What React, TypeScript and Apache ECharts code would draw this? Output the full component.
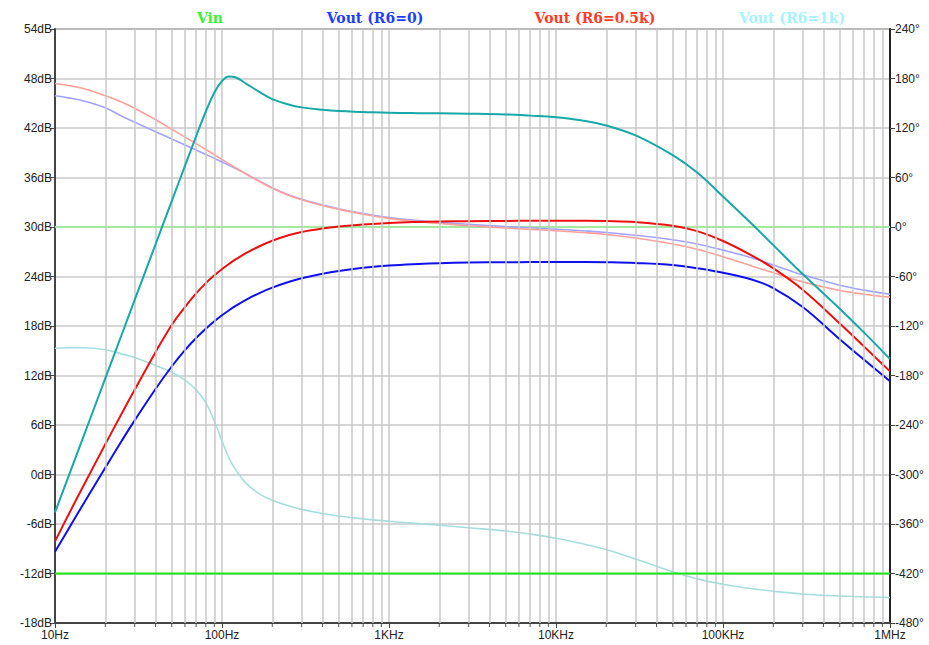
import { useEffect, useRef } from "react";
import * as echarts from "echarts";

// Frequency points (Hz) of the AC sweep
const FREQ = [
  10, 12, 15, 20, 25, 30, 40, 50, 60, 70, 80, 90, 100, 110, 120, 140, 170, 200, 250, 300, 400, 500, 700,
  1000, 1500, 2000, 3000, 5000, 7000, 10000, 15000, 20000, 30000, 50000, 70000, 100000, 150000, 200000,
  300000, 500000, 700000, 1000000,
];

// Magnitude (dB)
const VOUT_R0_DB = [
  -9.35, -6.66, -3.36, 0.83, 4.03, 6.56, 10.37, 13.09, 15.07, 16.54, 17.67, 18.57, 19.3, 19.9, 20.41,
  21.21, 22.05, 22.65, 23.33, 23.78, 24.34, 24.68, 25.06, 25.34, 25.53, 25.62, 25.69, 25.73, 25.75, 25.76,
  25.76, 25.74, 25.65, 25.4, 25.0, 24.45, 23.6, 22.6, 20.3, 16.4, 13.9, 11.3,
];
const VOUT_R05_DB = [
  -8.1, -4.93, -1.15, 3.66, 7.34, 10.27, 14.83, 18.13, 20.3, 21.95, 23.2, 24.15, 24.9, 25.52, 26.04, 26.86,
  27.73, 28.34, 29.0, 29.4, 29.82, 30.05, 30.3, 30.49, 30.61, 30.66, 30.7, 30.73, 30.75, 30.75, 30.75,
  30.72, 30.6, 30.15, 29.5, 28.3, 26.5, 25.0, 22.4, 18.3, 15.5, 12.5,
];
const VOUT_R1K_DB = [
  -4.6, -0.33, 4.9, 11.65, 16.88, 21.16, 27.9, 33.14, 37.4, 41.0, 44.0, 46.3, 47.7, 48.25, 48.15, 47.35,
  46.3, 45.5, 44.85, 44.5, 44.2, 44.05, 43.95, 43.85, 43.8, 43.78, 43.74, 43.65, 43.5, 43.3, 42.85, 42.3,
  41.1, 38.7, 36.6, 33.7, 30.3, 27.8, 24.3, 20.1, 17.2, 14.0,
];

// Phase (degrees)
const VOUT_R0_PH = [
  159, 156.5, 152.5, 144.5, 134.5, 127, 115.5, 106.7, 99.5, 93.4, 88, 83.2, 78.8, 74.8, 71.1, 64.3, 55,
  47.5, 39, 33.5, 26.5, 22, 16.3, 11.5, 7.8, 5.6, 3.2, 0.5, -1.0, -2.7, -4.8, -6.6, -10, -15.5, -20.5,
  -28, -37.5, -46, -58, -70.5, -76.5, -81.5,
];
const VOUT_R05_PH = [
  174, 171.5, 167.5, 159, 151.5, 144, 130, 118.5, 109, 101, 94, 87.5, 81.8, 76.7, 72, 64, 54.5, 47, 38.5,
  33, 26, 21.5, 15.5, 10.5, 6.5, 4.2, 1.6, -1.3, -2.9, -4.6, -6.9, -9.0, -13.3, -20.5, -27, -36, -47.5,
  -55.5, -66.5, -77, -81.5, -85,
];
const VOUT_R1K_PH = [
  -147, -146.3, -146.4, -148.8, -153.8, -158.3, -168, -176, -185.5, -197.4, -212.8, -235.5, -259, -279.8,
  -293.5, -311, -324.4, -331.1, -338, -342.3, -347.3, -350.3, -353.8, -356.7, -359.6, -361.6, -364.6,
  -368.5, -372.2, -377.2, -384.8, -391, -402.5, -418, -426.5, -433, -438.5, -441.5, -444.8, -447.3,
  -448.3, -449,
];

// Input source: flat magnitude and phase
const VIN_FREQ = [10, 1000000];
const VIN_DB = [-12, -12];
const VIN_PH = [0, 0];

// Vertical grid lines between decades
const MINOR_FREQ = [
  20, 30, 40, 50, 60, 70, 80, 90,
  200, 300, 400, 500, 600, 700, 800, 900,
  2000, 3000, 4000, 5000, 6000, 7000, 8000, 9000,
  20000, 30000, 40000, 50000, 60000, 70000, 80000, 90000,
  200000, 300000, 400000, 500000, 600000, 700000, 800000, 900000,
];

const LEGEND = [
  { text: "Vin", color: "#3cf03c", x: 210 },
  { text: "Vout (R6=0)", color: "#1f3dff", x: 375 },
  { text: "Vout (R6=0.5k)", color: "#ff3b2a", x: 595 },
  { text: "Vout (R6=1k)", color: "#a8f2ff", x: 792 },
];

const pairs = (xs: number[], ys: number[]) => xs.map((f, i) => [f, ys[i]]);

const freqLabel = (v: number) => {
  if (v >= 1e6) return v / 1e6 + "MHz";
  if (v >= 1e3) return v / 1e3 + "KHz";
  return v + "Hz";
};

export default function App() {
  const ref = useRef<HTMLDivElement>(null);

  useEffect(() => {
    if (!ref.current) return;
    const chart = echarts.init(ref.current, null, { renderer: "svg" });
    const labelFont = { fontFamily: "Liberation Sans, Arial, sans-serif", fontSize: 12, color: "#222" };
    const gridGray = "#c9c9c9";

    const line = (name: string, data: number[][], color: string, width: number, yAxisIndex = 0, z = 2) => ({
      name,
      type: "line",
      data,
      yAxisIndex,
      showSymbol: false,
      symbol: "none",
      smooth: 0.4,
      z,
      lineStyle: { color, width },
      emphasis: { disabled: true },
    });

    chart.setOption({
      animation: false,
      backgroundColor: "#ffffff",
      grid: {
        left: 55,
        right: 39,
        top: 29,
        bottom: 22,
        show: true,
        borderColor: "#6a6a6a",
        borderWidth: 1.5,
        backgroundColor: "transparent",
      },
      xAxis: {
        type: "log",
        logBase: 10,
        min: 10,
        max: 1000000,
        axisLine: { show: true, onZero: false, lineStyle: { color: "#444", width: 2 } },
        axisTick: { show: true, length: 5, lineStyle: { color: "#444" } },
        axisLabel: { ...labelFont, margin: 6, formatter: freqLabel },
        splitLine: { show: true, lineStyle: { color: gridGray, width: 1.5 } },
      },
      yAxis: [
        {
          type: "value",
          min: -18,
          max: 54,
          interval: 6,
          axisLine: { show: true, onZero: false, lineStyle: { color: "#444", width: 2 } },
          axisTick: { show: true, length: 5, lineStyle: { color: "#444" } },
          axisLabel: { ...labelFont, margin: 3, formatter: (v: number) => v + "dB" },
          splitLine: { show: true, lineStyle: { color: gridGray, width: 1.5 } },
        },
        {
          type: "value",
          min: -480,
          max: 240,
          interval: 60,
          position: "right",
          axisLine: { show: true, onZero: false, lineStyle: { color: "#222", width: 2 } },
          axisTick: { show: true, length: 5, lineStyle: { color: "#444" } },
          axisLabel: { ...labelFont, margin: 5, formatter: (v: number) => v + "°" },
          splitLine: { show: false },
        },
      ],
      graphic: LEGEND.map((l) => ({
        type: "text",
        x: l.x,
        y: 18,
        style: {
          text: l.text,
          fill: l.color,
          font: "bold 14px 'DejaVu Serif', serif",
          textAlign: "center",
          textVerticalAlign: "middle",
        },
      })),
      series: [
        {
          name: "grid",
          type: "line",
          data: [],
          silent: true,
          markLine: {
            silent: true,
            symbol: "none",
            label: { show: false },
            lineStyle: { color: gridGray, width: 1.5, type: "solid" },
            data: MINOR_FREQ.map((f) => ({ xAxis: f })),
          },
        },
        {
          // short minor tick marks under the frequency axis
          name: "minor ticks",
          type: "custom",
          silent: true,
          clip: false,
          data: MINOR_FREQ.map((f) => [f, -18]),
          renderItem: (_params: any, api: any) => {
            const p = api.coord([api.value(0), api.value(1)]);
            return {
              type: "line",
              shape: { x1: p[0], y1: p[1] + 1, x2: p[0], y2: p[1] + 4 },
              style: { stroke: "#555", lineWidth: 1 },
            };
          },
        },
        line("Vin phase", pairs(VIN_FREQ, VIN_PH), "#a6e8a0", 2, 1, 2),
        line("Vout (R6=0) phase", pairs(FREQ, VOUT_R0_PH), "#a3a3ff", 1.6, 1, 3),
        line("Vout (R6=0.5k) phase", pairs(FREQ, VOUT_R05_PH), "#ff9f9a", 1.6, 1, 3),
        line("Vout (R6=1k) phase", pairs(FREQ, VOUT_R1K_PH), "#a6dede", 1.6, 1, 3),
        line("Vout (R6=0)", pairs(FREQ, VOUT_R0_DB), "#1010ee", 2, 0, 4),
        line("Vout (R6=0.5k)", pairs(FREQ, VOUT_R05_DB), "#ee1010", 2, 0, 4),
        line("Vout (R6=1k)", pairs(FREQ, VOUT_R1K_DB), "#18a8a8", 2, 0, 5),
        line("Vin", pairs(VIN_FREQ, VIN_DB), "#18e818", 2, 0, 5),
      ],
    });

    return () => chart.dispose();
  }, []);

  return (
    <div
      ref={ref}
      style={{ position: "fixed", left: 0, top: 0, width: 929, height: 645, background: "#fff" }}
    />
  );
}
